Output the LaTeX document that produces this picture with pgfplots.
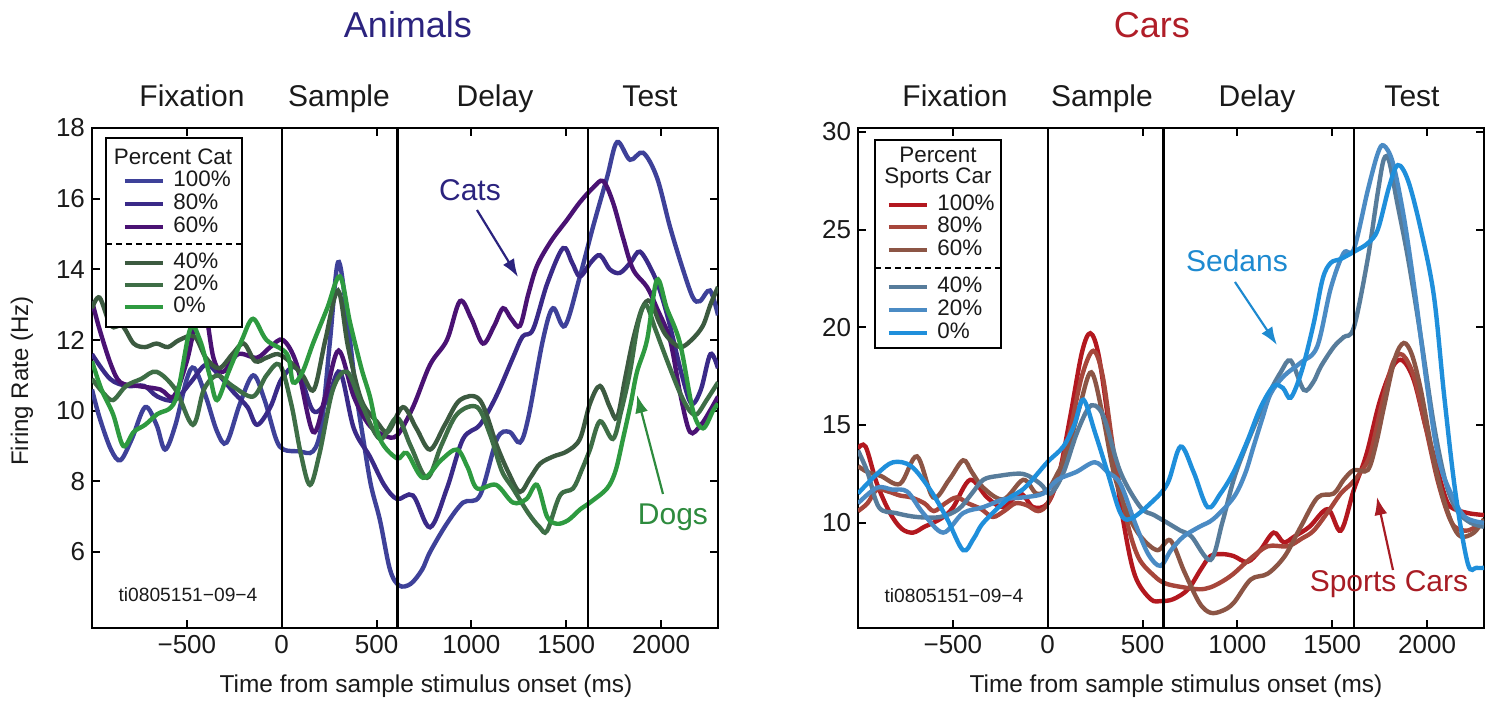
\documentclass[border=0pt]{standalone}
\usepackage{pgfplots}
\pgfplotsset{compat=1.18}
\usepackage{fontspec}
\setmainfont{Liberation Sans}
\usetikzlibrary{arrows.meta}

\definecolor{cA}{HTML}{3E4199}
\definecolor{cB}{HTML}{3A2A88}
\definecolor{cC}{HTML}{4A1273}
\definecolor{gA}{HTML}{3C5A40}
\definecolor{gB}{HTML}{3E6E46}
\definecolor{gC}{HTML}{2E9A40}
\definecolor{rA}{HTML}{B3181F}
\definecolor{rB}{HTML}{A7463B}
\definecolor{rC}{HTML}{8C5545}
\definecolor{bA}{HTML}{577C9B}
\definecolor{bB}{HTML}{4B8BC4}
\definecolor{bC}{HTML}{1F8FDB}
\definecolor{animals}{HTML}{2B237E}
\definecolor{cars}{HTML}{B01E28}
\definecolor{dogs}{HTML}{2E8B3E}
\definecolor{sedans}{HTML}{1E8AD0}
\definecolor{sports}{HTML}{A81C24}
\definecolor{txt}{HTML}{1A1A1A}

\newcommand\fs[1]{\fontsize{#1bp}{#1bp}\selectfont}

\pgfplotsset{
  panel/.style={
    scale only axis, width=313bp, height=250bp,
    xmin=-1000, xmax=2300,
    axis line style={line width=1.3bp, black},
    every tick/.style={line width=1bp, black},
    major tick length=4bp,
    tick align=inside,
    xtick={-500,0,500,1000,1500,2000},
    xticklabels={−500,0,500,1000,1500,2000},
    xtick pos=both, ytick pos=both,
    xticklabel pos=lower, yticklabel pos=left,
    ticklabel style={font=\fs{13}, text=txt},
    /pgf/number format/assume math mode=true,
    clip mode=individual,
    every axis plot/.append style={line width=2.2bp, smooth, tension=0.55, no markers},
  }
}

\begin{document}
\begin{tikzpicture}
\path[use as bounding box] (0,0) rectangle (752.5bp,354.5bp);

% ---------------- Animals ----------------
\begin{axis}[panel, at={(46bp,40.5bp)}, anchor=south west,
  ymin=3.85, ymax=18, ytick={6,8,10,12,14,16,18}]
\addplot[cA] coordinates {(-1000,10.6) (-960,9.8) (-900,8.9) (-850,8.6) (-790,9.2) (-720,10.1) (-660,9.6) (-615,8.9) (-560,9.6) (-500,10.9) (-460,11.2) (-400,10.4) (-340,9.4) (-290,9.1) (-220,10.2) (-150,11.0) (-90,10.3) (-30,9.2) (10,8.9) (90,8.85) (165,8.85) (210,9.6) (255,12.0) (297,14.2) (340,12.9) (390,10.6) (430,9.2) (470,7.9) (518,6.9) (571,5.5) (620,5.05) (680,5.1) (740,5.5) (782,6.0) (870,6.8) (956,7.4) (1045,7.6) (1135,9.2) (1200,9.4) (1256,9.1) (1300,9.8) (1377,12.0) (1430,12.9) (1493,12.4) (1572,13.8) (1641,15.2) (1715,16.6) (1768,17.6) (1836,17.1) (1905,17.3) (1978,16.6) (2047,15.2) (2115,14.0) (2168,13.2) (2205,13.1) (2258,13.4) (2300,12.7)};
\addplot[cB] coordinates {(-1000,11.6) (-905,10.9) (-815,10.7) (-725,10.7) (-655,10.4) (-565,10.3) (-480,10.8) (-400,11.3) (-330,11.0) (-250,10.5) (-180,10.1) (-130,9.6) (-60,10.1) (0,10.9) (80,11.2) (165,10.0) (240,10.3) (307,11.1) (380,9.5) (465,8.7) (540,7.9) (608,7.5) (692,7.6) (782,6.7) (871,7.8) (956,9.2) (1045,9.6) (1130,10.4) (1219,11.5) (1270,12.1) (1325,12.3) (1400,13.6) (1483,14.6) (1530,14.2) (1572,13.8) (1630,14.2) (1678,14.4) (1730,14.0) (1783,13.9) (1840,14.2) (1889,14.5) (1957,13.9) (2000,13.3) (2047,12.4) (2110,11.0) (2160,10.2) (2210,10.6) (2260,11.6) (2300,11.2)};
\addplot[cC] coordinates {(-1000,13.1) (-960,12.3) (-900,11.3) (-850,10.8) (-760,10.7) (-640,10.6) (-570,10.4) (-500,11.4) (-420,13.1) (-360,11.5) (-310,11.1) (-230,11.6) (-130,11.5) (-60,11.8) (7,12.0) (80,11.3) (165,9.4) (230,10.4) (300,11.7) (380,10.4) (460,9.6) (540,9.3) (608,9.3) (692,10.1) (782,11.3) (871,12.0) (940,13.1) (1000,12.6) (1061,11.9) (1120,12.4) (1167,12.9) (1210,12.6) (1256,12.4) (1300,13.3) (1346,14.1) (1420,14.8) (1504,15.4) (1572,15.9) (1640,16.3) (1694,16.5) (1746,15.9) (1799,14.9) (1852,14.0) (1926,13.5) (1978,12.9) (2047,12.0) (2100,10.5) (2152,9.4) (2210,9.6) (2258,10.0) (2300,10.4)};
\addplot[gA] coordinates {(-1000,12.9) (-960,13.2) (-900,12.4) (-840,12.4) (-780,11.9) (-720,11.8) (-660,11.9) (-600,11.8) (-540,12.0) (-460,12.1) (-400,11.5) (-330,11.2) (-260,11.6) (-200,11.9) (-140,11.4) (-80,11.5) (-20,11.6) (40,11.4) (110,11.0) (170,10.6) (230,12.0) (297,13.4) (350,11.8) (420,10.3) (500,9.7) (560,9.4) (639,10.1) (710,9.5) (782,8.9) (860,9.6) (940,10.3) (1045,10.3) (1135,9.0) (1200,8.2) (1256,7.7) (1310,8.1) (1362,8.5) (1430,8.7) (1504,8.85) (1572,9.2) (1625,10.2) (1678,10.7) (1730,10.1) (1768,9.8) (1810,10.9) (1852,12.0) (1900,12.9) (1942,13.1) (1990,12.5) (2031,12.1) (2100,11.8) (2160,12.0) (2220,12.4) (2260,13.0) (2300,13.5)};
\addplot[gB] coordinates {(-1000,10.9) (-940,10.5) (-889,10.3) (-820,10.7) (-740,10.9) (-660,11.1) (-560,10.6) (-468,9.6) (-410,10.6) (-340,11.0) (-260,10.7) (-151,10.4) (-80,11.0) (-10,11.3) (50,10.2) (100,8.8) (149,7.9) (200,8.8) (270,10.6) (344,11.1) (420,10.2) (518,9.2) (608,9.8) (680,9.0) (766,8.1) (840,9.0) (924,9.9) (1030,10.1) (1100,9.3) (1160,8.3) (1219,7.8) (1300,7.1) (1360,6.7) (1399,6.6) (1467,7.6) (1536,7.8) (1580,8.3) (1625,8.9) (1678,9.7) (1746,9.2) (1790,10.0) (1836,11.1) (1880,12.5) (1920,13.0) (1970,12.3) (2040,11.3) (2100,10.5) (2150,10.0) (2189,9.9) (2240,10.3) (2300,10.8)};
\addplot[gC] coordinates {(-1000,11.4) (-950,10.6) (-889,9.9) (-835,9.0) (-780,9.4) (-720,9.6) (-657,9.9) (-560,10.3) (-483,12.3) (-431,12.0) (-380,11.0) (-341,10.3) (-280,11.1) (-210,12.0) (-151,12.6) (-80,12.0) (28,11.6) (60,10.8) (110,11.1) (165,11.9) (240,12.9) (307,13.8) (360,12.5) (420,11.2) (465,10.4) (518,9.2) (608,8.65) (660,8.8) (745,8.1) (840,8.6) (924,8.9) (980,8.4) (1030,7.8) (1130,7.9) (1219,7.4) (1290,7.5) (1346,7.9) (1399,7.0) (1451,6.8) (1510,6.9) (1572,7.2) (1625,7.4) (1715,7.8) (1760,8.3) (1799,9.2) (1840,10.2) (1873,11.1) (1926,12.0) (1978,13.7) (2030,12.9) (2100,11.9) (2168,10.0) (2221,9.5) (2274,10.0) (2300,10.2)};
\draw[line width=1.1bp] (axis cs:0,3.85) -- (axis cs:0,18);
\draw[line width=1.1bp] (axis cs:610,3.85) -- (axis cs:610,18);
\draw[line width=1.1bp] (axis cs:1615,3.85) -- (axis cs:1615,18);
\end{axis}

% ---------------- Cars ----------------
\begin{axis}[panel, at={(429bp,40.5bp)}, anchor=south west,
  ymin=4.62, ymax=30.2, ytick={10,15,20,25,30}]
\addplot[rA] coordinates {(-1000,13.8) (-960,13.9) (-900,12.0) (-831,10.5) (-770,9.7) (-710,9.5) (-650,9.8) (-604,10.0) (-550,10.3) (-498,10.8) (-409,12.2) (-319,11.3) (-234,10.8) (-145,11.5) (-76,10.8) (0,11.0) (60,12.5) (120,15.5) (180,18.7) (225,19.7) (270,18.5) (330,14.5) (400,10.0) (460,7.3) (542,6.1) (600,6.0) (663,6.1) (740,6.6) (806,7.6) (858,8.3) (920,8.4) (980,8.3) (1053,8.0) (1120,8.6) (1191,9.5) (1244,9.0) (1300,9.3) (1380,9.8) (1476,10.7) (1545,9.6) (1614,11.7) (1680,13.5) (1750,16.2) (1820,18.0) (1872,18.3) (1930,17.3) (1990,15.0) (2036,13.4) (2090,11.5) (2126,10.8) (2215,10.5) (2300,10.4)};
\addplot[rB] coordinates {(-1000,10.6) (-950,11.0) (-900,11.7) (-840,11.6) (-780,11.4) (-720,11.3) (-650,11.0) (-600,10.6) (-540,11.0) (-480,11.3) (-420,11.0) (-350,10.7) (-290,10.3) (-230,10.6) (-170,11.0) (-110,10.9) (-50,10.6) (0,11.0) (60,12.5) (120,14.8) (180,17.5) (240,18.8) (290,17.5) (350,13.5) (420,10.0) (480,8.2) (560,7.3) (620,6.9) (716,6.7) (800,6.6) (858,6.7) (920,7.0) (980,7.4) (1060,8.1) (1160,8.8) (1265,8.8) (1340,9.2) (1402,9.6) (1480,10.6) (1545,11.5) (1600,12.0) (1650,12.6) (1700,13.5) (1760,16.0) (1820,18.2) (1870,18.6) (1930,17.5) (1990,15.0) (2060,12.0) (2130,10.0) (2200,9.6) (2260,9.8) (2300,10.0)};
\addplot[rC] coordinates {(-1000,12.9) (-950,12.6) (-880,12.4) (-778,12.0) (-689,13.4) (-604,11.3) (-520,12.2) (-446,13.2) (-400,12.6) (-340,11.8) (-234,11.2) (-129,12.2) (-60,11.5) (0,11.7) (50,12.5) (103,13.6) (170,16.0) (230,17.7) (290,15.5) (350,12.5) (420,10.5) (490,9.3) (578,8.6) (647,9.1) (720,7.5) (800,5.9) (858,5.4) (920,5.5) (980,5.9) (1070,7.1) (1160,7.4) (1250,8.3) (1334,9.8) (1423,11.3) (1508,11.5) (1560,12.2) (1614,12.7) (1687,12.7) (1730,14.0) (1772,15.9) (1830,18.4) (1877,19.2) (1920,18.6) (1967,16.8) (2020,14.0) (2073,11.7) (2130,10.0) (2178,9.3) (2247,9.5) (2300,10.2)};
\addplot[bA] coordinates {(-1000,13.7) (-950,12.6) (-890,10.8) (-800,10.5) (-690,10.3) (-567,10.3) (-470,10.7) (-400,11.5) (-340,12.2) (-260,12.4) (-129,12.5) (-39,12.0) (14,11.5) (80,12.5) (150,14.5) (210,15.8) (250,16.0) (300,15.3) (383,12.6) (489,10.8) (560,10.4) (631,10.0) (700,9.6) (758,9.3) (858,8.1) (920,10.0) (980,12.2) (1040,13.8) (1100,15.2) (1160,16.5) (1228,17.7) (1281,18.3) (1350,16.8) (1400,17.2) (1440,18.0) (1508,19.0) (1560,19.5) (1614,20.0) (1687,23.5) (1740,26.9) (1772,28.6) (1800,28.5) (1840,26.5) (1900,23.5) (1967,19.5) (2036,15.0) (2100,12.0) (2160,10.6) (2230,10.0) (2300,9.8)};
\addplot[bB] coordinates {(-1000,11.0) (-900,11.8) (-820,11.7) (-741,11.6) (-657,10.5) (-551,9.5) (-446,10.5) (-340,10.8) (-234,11.2) (-130,11.3) (-23,11.5) (51,12.2) (150,12.6) (248,13.1) (315,12.6) (383,12.0) (460,10.0) (530,8.4) (594,7.8) (650,8.6) (716,9.3) (800,9.8) (874,10.2) (980,11.3) (1040,12.5) (1085,13.9) (1130,15.3) (1175,16.6) (1244,17.5) (1334,18.2) (1420,19.0) (1492,22.0) (1560,23.8) (1614,24.0) (1687,27.0) (1740,28.9) (1772,29.3) (1820,28.4) (1880,25.5) (1940,21.5) (2000,17.0) (2060,13.3) (2126,11.5) (2200,10.3) (2300,10.0)};
\addplot[bC] coordinates {(-1000,11.5) (-900,12.5) (-815,13.1) (-720,12.9) (-620,11.7) (-530,10.2) (-446,8.6) (-390,9.2) (-340,10.0) (-213,11.2) (-120,11.8) (-2,13.1) (82,13.9) (140,15.0) (188,16.3) (250,14.6) (315,12.6) (383,10.5) (436,10.2) (542,11.0) (631,12.0) (700,13.9) (769,12.6) (843,10.8) (911,11.5) (980,12.6) (1053,14.2) (1122,15.9) (1191,17.0) (1240,16.9) (1281,16.4) (1340,17.8) (1402,20.2) (1450,22.5) (1492,23.3) (1545,23.5) (1620,23.9) (1687,24.3) (1740,25.0) (1800,27.2) (1846,28.3) (1900,27.5) (1967,25.0) (2036,21.6) (2090,16.5) (2150,11.5) (2215,7.9) (2260,7.7) (2300,7.7)};
\draw[line width=1.1bp] (axis cs:0,4.62) -- (axis cs:0,30.2);
\draw[line width=1.1bp] (axis cs:610,4.62) -- (axis cs:610,30.2);
\draw[line width=1.1bp] (axis cs:1615,4.62) -- (axis cs:1615,30.2);
\end{axis}

% ---------------- texts, legends (pixel grid of the reference) ----------------
\begin{scope}[x=0.5bp, y=-0.5bp, yshift=354.5bp]
\node[anchor=base, font=\fs{18}, text=animals, inner sep=0] at (408,38) {Animals};
\node[anchor=base, font=\fs{18}, text=cars, inner sep=0] at (1152,38) {Cars};
\foreach \x/\t in {192/Fixation, 339/Sample, 495/Delay, 650/Test, 955/Fixation, 1102/Sample, 1257/Delay, 1412/Test}
  \node[anchor=base, font=\fs{15}, text=txt, inner sep=0] at (\x,107) {\t};
\node[anchor=base, font=\fs{12.2}, text=txt, inner sep=0] at (426,693) {Time from sample stimulus onset (ms)};
\node[anchor=base, font=\fs{12.2}, text=txt, inner sep=0] at (1176,693) {Time from sample stimulus onset (ms)};
\node[rotate=90, anchor=base, font=\fs{12}, text=txt, inner sep=0] at (28,381) {Firing Rate (Hz)};
\node[anchor=base, font=\fs{9.6}, text=txt, inner sep=0] at (188,602) {ti0805151−09−4};
\node[anchor=base, font=\fs{9.6}, text=txt, inner sep=0] at (954,603) {ti0805151−09−4};
% annotations
\node[anchor=base, font=\fs{15}, text=animals, inner sep=0] at (470,201) {Cats};
\draw[animals, line width=1.1bp, -{Latex[length=9bp,width=6.5bp]}] (477,210) -- (518,277);
\node[anchor=base, font=\fs{15}, text=dogs, inner sep=0] at (673,525) {Dogs};
\draw[dogs, line width=1.1bp, -{Latex[length=9bp,width=6.5bp]}] (663,494) -- (637,395);
\node[anchor=base, font=\fs{15}, text=sedans, inner sep=0] at (1237,272) {Sedans};
\draw[sedans, line width=1.1bp, -{Latex[length=9bp,width=6.5bp]}] (1235,282) -- (1277,345);
\node[anchor=base, font=\fs{15}, text=sports, inner sep=0] at (1389,592) {Sports Cars};
\draw[sports, line width=1.1bp, -{Latex[length=9bp,width=6.5bp]}] (1393,570) -- (1377,497);
% left legend
\fill[white] (106,138) rectangle (242,327);
\draw[line width=1.2bp] (106,138) rectangle (242,327);
\node[font=\fs{11.2}, text=txt, inner sep=0] at (173,157) {Percent Cat};
\foreach \y/\c/\t in {181/cA/100\%, 204/cB/80\%, 227/cC/60\%, 263/gA/40\%, 285/gB/20\%, 307/gC/0\%} {
  \draw[\c, line width=2.4bp] (125,\y) -- (163,\y);
  \node[anchor=mid west, font=\fs{11.2}, text=txt, inner sep=0] at (173,\y) {\t};
}
\draw[line width=1bp, dash pattern=on 3bp off 2bp] (106,244) -- (242,244);
% right legend
\fill[white] (875,140) rectangle (1001,348);
\draw[line width=1.2bp] (875,140) rectangle (1001,348);
\node[font=\fs{11.2}, text=txt, inner sep=0] at (938,155) {Percent};
\node[font=\fs{11.2}, text=txt, inner sep=0] at (938,178) {Sports Car};
\foreach \y/\c/\t in {205/rA/100\%, 227/rB/80\%, 250/rC/60\%, 287/bA/40\%, 310/bB/20\%, 333/bC/0\%} {
  \draw[\c, line width=2.4bp] (889,\y) -- (927,\y);
  \node[anchor=mid west, font=\fs{11.2}, text=txt, inner sep=0] at (937,\y) {\t};
}
\draw[line width=1bp, dash pattern=on 3bp off 2bp] (875,268) -- (1001,268);
\end{scope}
\end{tikzpicture}
\end{document}
